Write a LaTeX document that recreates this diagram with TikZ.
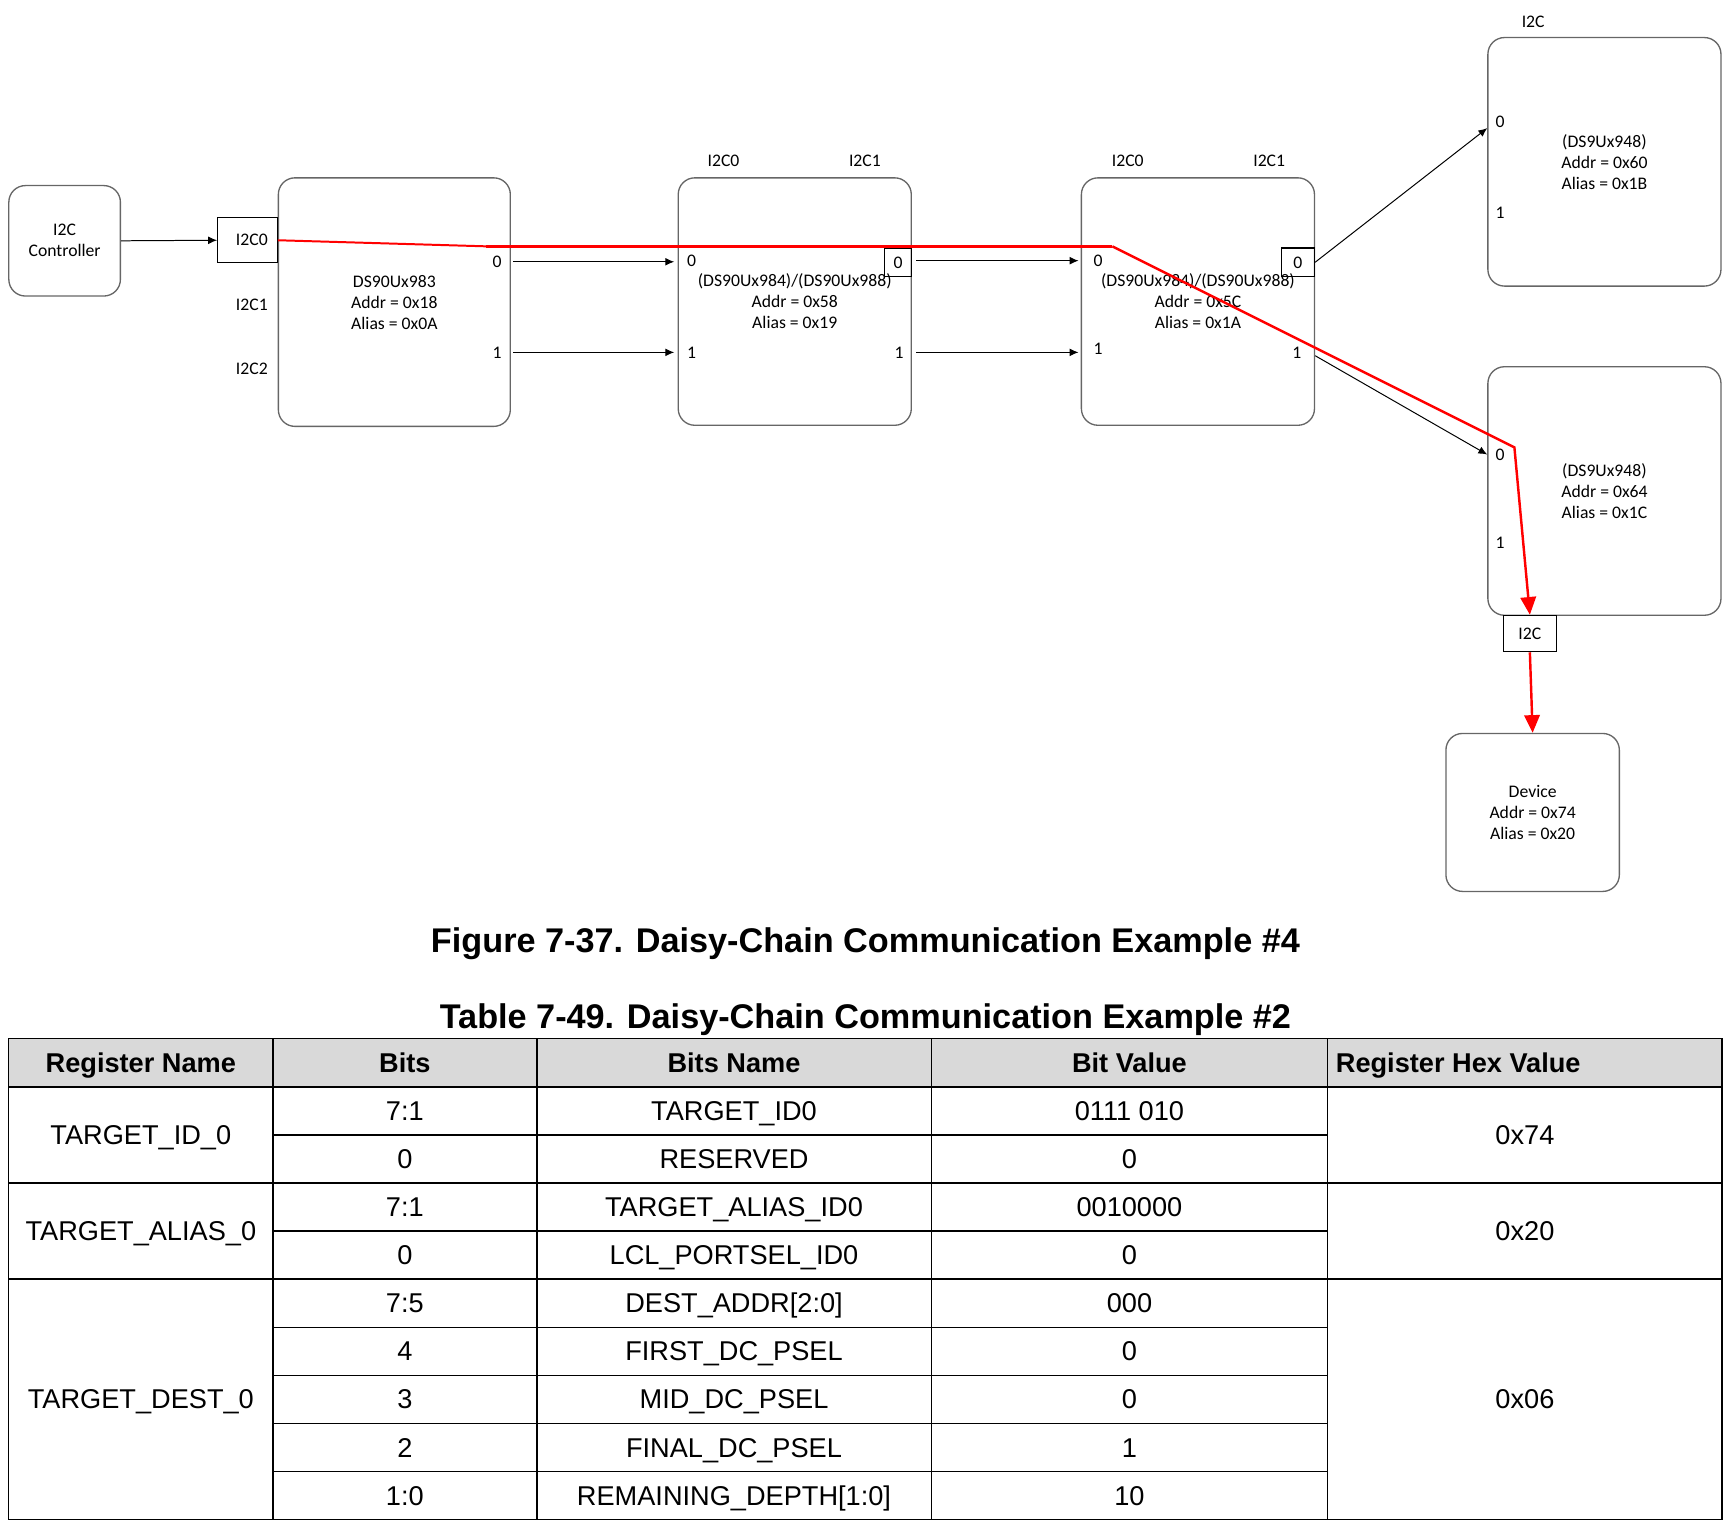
\documentclass[tikz,border=0pt]{standalone}
\usepackage{fontspec}
\setmainfont{Liberation Sans}
\newfontfamily\calibfont{Carlito}
\usetikzlibrary{arrows.meta, positioning}
\definecolor{hdrgray}{HTML}{D9D9D9}
\tikzstyle{chip} = [rectangle, rounded corners=7.5pt, draw=black!60, line width=0.6pt, align=center, font=\calibfont\fontsize{8}{9.5}\selectfont]
\tikzstyle{port} = [rectangle, draw=black, line width=0.5pt, inner sep=0pt, font=\calibfont\fontsize{8}{9.5}\selectfont]
\tikzstyle{lbl} = [inner sep=0pt, font=\calibfont\fontsize{8}{9.5}\selectfont]
\tikzstyle{arrow} = [line width=0.45pt, -{Latex[length=4pt,width=3.5pt]}]
\tikzstyle{redpath} = [red, line width=1.1pt, -{Triangle[length=8pt,width=7pt]}]
\tikzstyle{tline} = [line width=0.6pt, black]
\tikzstyle{cell} = [inner sep=0pt, text height=8.8pt, text depth=0pt, font=\fontsize{12.3}{14}\selectfont]
\tikzstyle{hdr} = [inner sep=0pt, text height=8.8pt, text depth=0pt, font=\fontsize{12.3}{14}\selectfont\bfseries]
\tikzstyle{figtitle} = [inner sep=0pt, text height=11.1pt, text depth=0pt, font=\fontsize{15.5}{18}\selectfont\bfseries]

\begin{document}
\begin{tikzpicture}[x=0.5pt, y=-0.5pt]
\useasboundingbox (0,0) rectangle (1568,1387);
% Define nodes
\node (ctrl) [chip, minimum width=50.5pt, minimum height=50pt] at (58.5,218) {I2C\\Controller};
\node (ser) [chip, minimum width=105pt, minimum height=112.5pt] at (357,273.5) {DS90Ux983\\Addr = 0x18\\Alias = 0x0A};
\node (desA) [chip, minimum width=105.5pt, minimum height=112pt] at (719.5,273) {(DS90Ux984)/(DS90Ux988)\\Addr = 0x58\\Alias = 0x19};
\node (desB) [chip, minimum width=105.5pt, minimum height=112pt] at (1084.5,273) {(DS90Ux984)/(DS90Ux988)\\Addr = 0x5C\\Alias = 0x1A};
\node (serA) [chip, minimum width=105.5pt, minimum height=112.5pt] at (1452.5,146.5) {(DS9Ux948)\\Addr = 0x60\\Alias = 0x1B};
\node (serB) [chip, minimum width=105.5pt, minimum height=112.5pt] at (1452.5,444.5) {(DS9Ux948)\\Addr = 0x64\\Alias = 0x1C};
\node (dev) [chip, minimum width=78.5pt, minimum height=71.5pt] at (1387.5,735.5) {Device\\Addr = 0x74\\Alias = 0x20};
% Port boxes
\node (p0) [port, minimum width=27pt, minimum height=20.5pt] at (224,217.5) {\hspace{4pt}I2C0};
\node (pA) [port, minimum width=12pt, minimum height=12.5pt] at (813,237.5) {0};
\node (pB) [port, minimum width=15pt, minimum height=13pt] at (1175,237.5) {0};
\node (pI) [port, minimum width=24pt, minimum height=16.5pt] at (1385,573.5) {I2C};
% Port labels
\node (i2c1l) [lbl] at (228,276) {I2C1};
\node (i2c2l) [lbl] at (228,334) {I2C2};
\node (serl0) [lbl] at (450,237) {0};
\node (serl1) [lbl] at (450,319) {1};
\node (desAtop0) [lbl] at (655,146) {I2C0};
\node (desAtop1) [lbl] at (783,146) {I2C1};
\node (desAl0) [lbl] at (626,236) {0};
\node (desAl1) [lbl] at (626,319) {1};
\node (desAr1) [lbl] at (814,319) {1};
\node (desBtop0) [lbl] at (1021,146) {I2C0};
\node (desBtop1) [lbl] at (1149,146) {I2C1};
\node (desBl0) [lbl] at (994,236) {0};
\node (desBl1) [lbl] at (994,316) {1};
\node (desBr1) [lbl] at (1174,319) {1};
\node (serAtop) [lbl] at (1388,20) {I2C};
\node (serAl0) [lbl] at (1358,110) {0};
\node (serAl1) [lbl] at (1358,193) {1};
\node (serBl0) [lbl] at (1358,412) {0};
\node (serBl1) [lbl] at (1358,491) {1};
% Connect nodes with arrows
\draw [arrow] (ctrl.east) -- (p0.west);
\draw [arrow, shorten <=1pt, shorten >=1.5pt] (ser.east |- serl0) -- (desA.west |- serl0);
\draw [arrow, shorten <=1pt, shorten >=1.5pt] (ser.east |- serl1) -- (desA.west |- serl1);
\draw [arrow, shorten <=2pt, shorten >=1pt] (pA.east |- desAl0) -- (desB.west |- desAl0);
\draw [arrow, shorten <=2pt, shorten >=1pt] (desA.east |- desAr1) -- (desB.west |- desAr1);
\draw [arrow] (pB.east) -- ([yshift=15.25pt]serA.west);
\draw [arrow] ([yshift=-24.5pt]desB.east) -- ([yshift=16.5pt]serB.west);
% Highlighted route
\coordinate (bendA) at (440,223);
\coordinate (bendB) at (1007,223);
\coordinate (bendC) at (1371,405);
\draw [red, line width=0.9pt] (p0.east) -- (bendA);
\draw [red, line width=1.6pt] (bendA) -- (bendB);
\draw [redpath] (bendB) -- (bendC) -- (pI.north);
\draw [redpath] (pI.south) -- (dev.north);
% Captions
\node (fig) [figtitle] at (783.5,851) {Figure 7-37. Daisy-Chain Communication Example \#4};
\node (tab) [figtitle] at (783.5,920) {Table 7-49. Daisy-Chain Communication Example \#2};
% Table grid
\fill [hdrgray] (8,940) rectangle (1559,984);
\draw [tline] (8,940) rectangle (1559,1375.5);
\draw [tline] (8,984) -- (1559,984) (8,1071) -- (1559,1071) (8,1158) -- (1559,1158);
\draw [tline] (247,940) -- (247,1375.5) (486,940) -- (486,1375.5) (843,940) -- (843,1375.5) (1202,940) -- (1202,1375.5);
\draw [tline] (247,1027.5) -- (1202,1027.5) (247,1114.5) -- (1202,1114.5) (247,1201.5) -- (1202,1201.5);
\draw [tline] (247,1245) -- (1202,1245) (247,1288.5) -- (1202,1288.5) (247,1332) -- (1202,1332);
% Table header
\node (hreg) [hdr] at (127.5,962) {Register Name};
\node (hbits) [hdr] at (366.5,962) {Bits};
\node (hname) [hdr] at (664.5,962) {Bits Name};
\node (hval) [hdr] at (1022.5,962) {Bit Value};
\node (hhex) [hdr, anchor=west] at (1209,962) {Register Hex Value};
% Table body
\node (regid) [cell] at (127.5,1027.5) {TARGET\_ID\_0};
\node (regal) [cell] at (127.5,1114.5) {TARGET\_ALIAS\_0};
\node (regde) [cell] at (127.5,1266.75) {TARGET\_DEST\_0};
\node (hexid) [cell] at (1380.5,1027.5) {0x74};
\node (hexal) [cell] at (1380.5,1114.5) {0x20};
\node (hexde) [cell] at (1380.5,1266.75) {0x06};
\node (b1) [cell] at (366.5,1005.75) {7:1};
\node (n1) [cell] at (664.5,1005.75) {TARGET\_ID0};
\node (v1) [cell] at (1022.5,1005.75) {0111 010};
\node (b2) [cell] at (366.5,1049.25) {0};
\node (n2) [cell] at (664.5,1049.25) {RESERVED};
\node (v2) [cell] at (1022.5,1049.25) {0};
\node (b3) [cell] at (366.5,1092.75) {7:1};
\node (n3) [cell] at (664.5,1092.75) {TARGET\_ALIAS\_ID0};
\node (v3) [cell] at (1022.5,1092.75) {0010000};
\node (b4) [cell] at (366.5,1136.25) {0};
\node (n4) [cell] at (664.5,1136.25) {LCL\_PORTSEL\_ID0};
\node (v4) [cell] at (1022.5,1136.25) {0};
\node (b5) [cell] at (366.5,1179.75) {7:5};
\node (n5) [cell] at (664.5,1179.75) {DEST\_ADDR[2:0]};
\node (v5) [cell] at (1022.5,1179.75) {000};
\node (b6) [cell] at (366.5,1223.25) {4};
\node (n6) [cell] at (664.5,1223.25) {FIRST\_DC\_PSEL};
\node (v6) [cell] at (1022.5,1223.25) {0};
\node (b7) [cell] at (366.5,1266.75) {3};
\node (n7) [cell] at (664.5,1266.75) {MID\_DC\_PSEL};
\node (v7) [cell] at (1022.5,1266.75) {0};
\node (b8) [cell] at (366.5,1310.25) {2};
\node (n8) [cell] at (664.5,1310.25) {FINAL\_DC\_PSEL};
\node (v8) [cell] at (1022.5,1310.25) {1};
\node (b9) [cell] at (366.5,1353.75) {1:0};
\node (n9) [cell] at (664.5,1353.75) {REMAINING\_DEPTH[1:0]};
\node (v9) [cell] at (1022.5,1353.75) {10};
\end{tikzpicture}
\end{document}
